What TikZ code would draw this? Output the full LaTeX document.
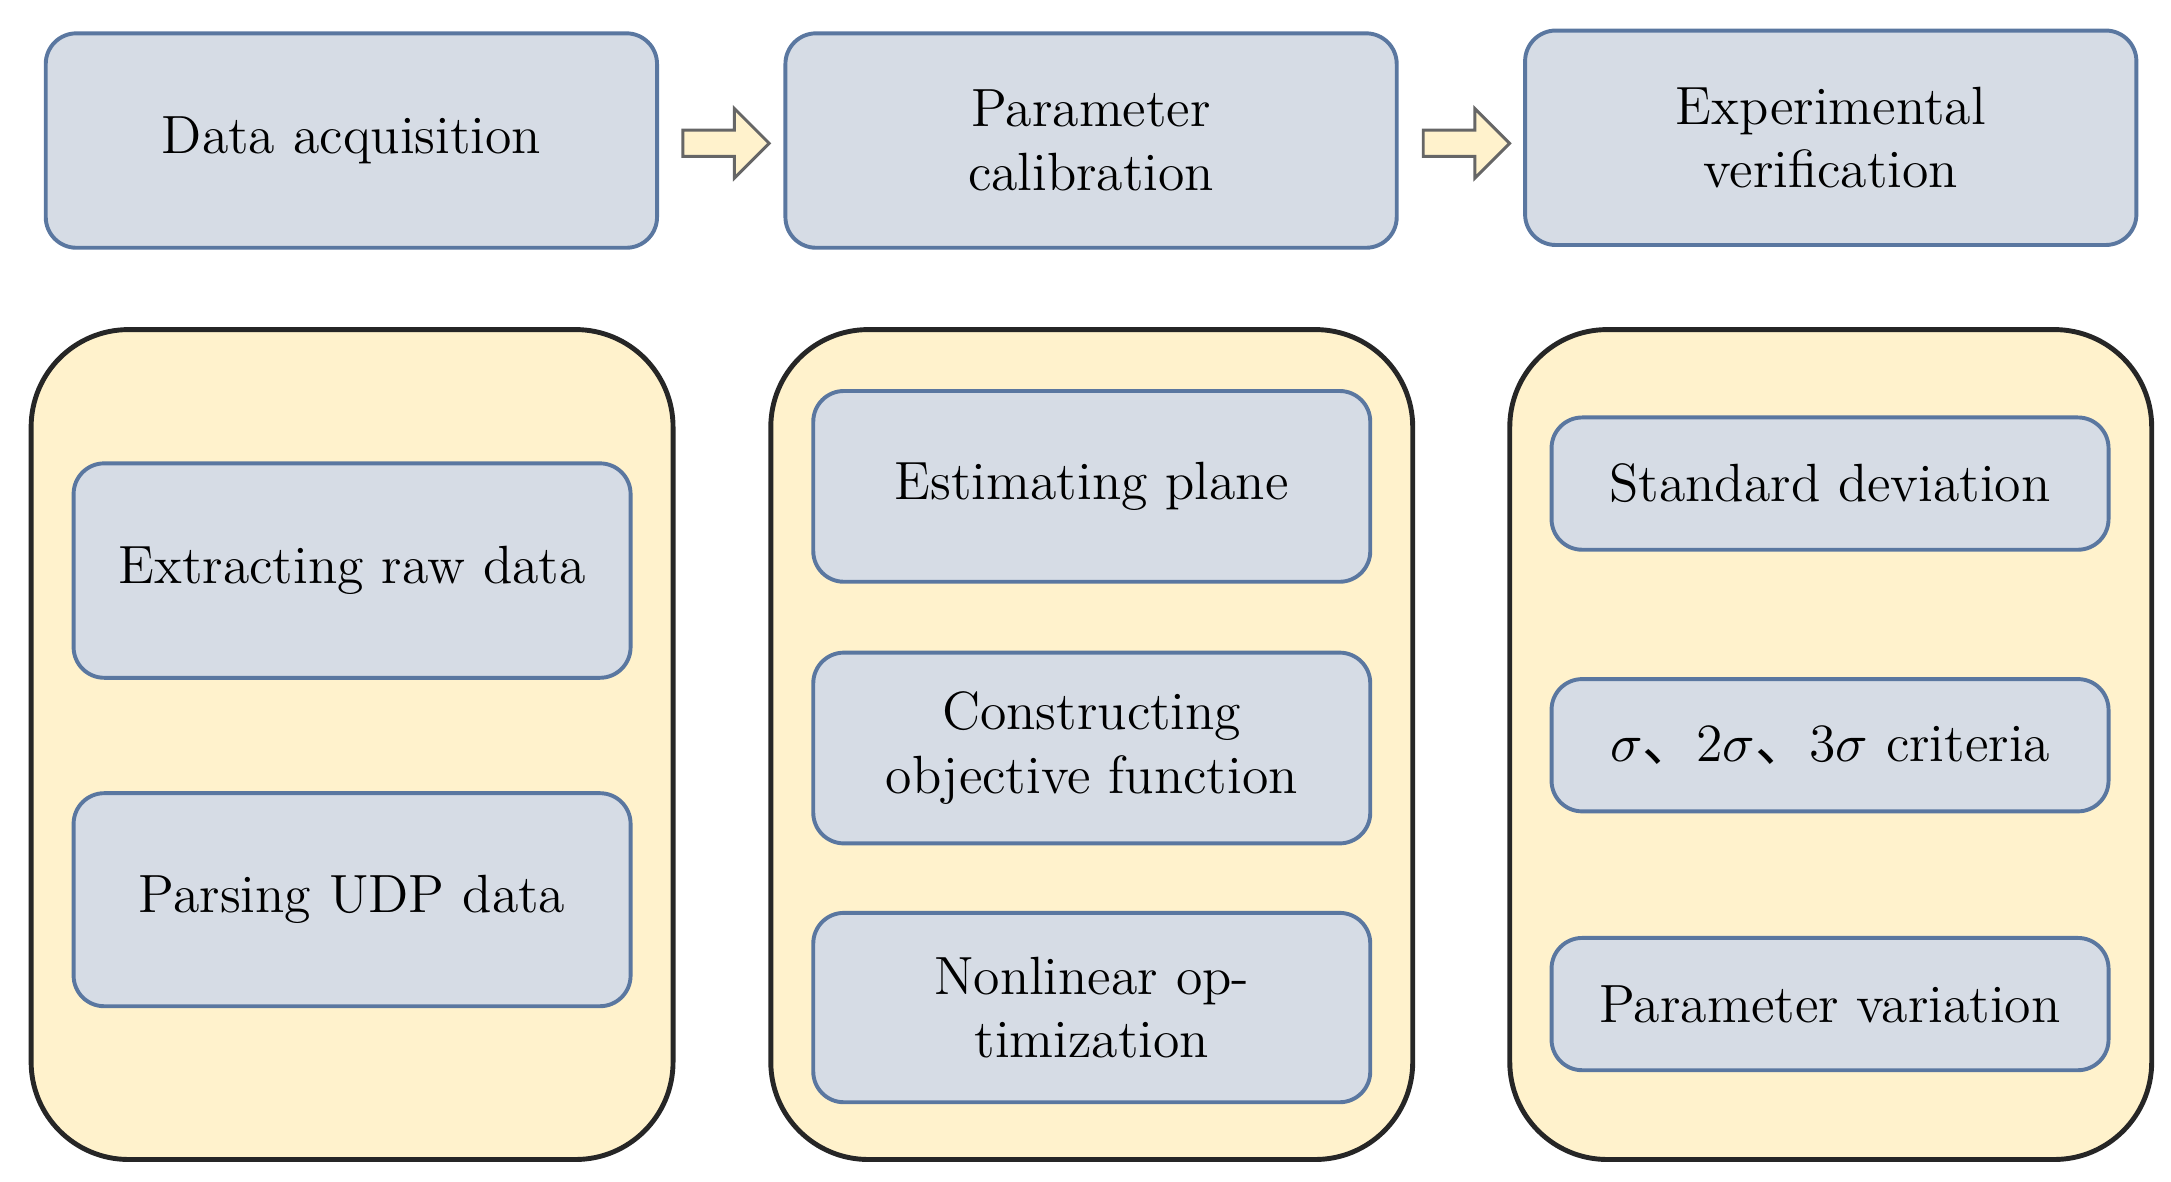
\documentclass[tikz,border=0pt]{standalone}
\usepackage{fontspec}
\newfontfamily\cjk{Noto Sans CJK SC}
\usetikzlibrary{shapes.arrows}
\definecolor{boxfill}{HTML}{D6DCE5}
\definecolor{boxline}{HTML}{5A77A0}
\definecolor{panelfill}{HTML}{FFF2CC}
\definecolor{arrowfill}{HTML}{FFF2CC}
\tikzset{
    every node/.style={
        font=\fontsize{11}{13}\selectfont
    },
    stage/.style={
        shape=rectangle,
        draw=boxline,
        fill=boxfill,
        line width=0.8pt,
        rounded corners=2.2mm,
        text width=3.6cm,
        align=center,
        minimum width=4.39cm,
        minimum height=1.54cm
    },
    panel/.style={
        shape=rectangle,
        draw=black!85,
        fill=panelfill,
        line width=1pt,
        rounded corners=7mm,
        minimum width=4.61cm,
        minimum height=5.96cm
    },
    task/.style={
        stage,
        minimum width=4cm
    },
    flow/.style={
        single arrow,
        draw=black!60,
        fill=arrowfill,
        line width=0.6pt,
        minimum height=0.62cm,
        minimum width=0.5cm,
        single arrow head extend=0.1cm,
        inner sep=0.5mm
    }
}
\begin{document}
\begin{tikzpicture}[x=0.01cm, y=-0.01cm]
    \useasboundingbox (0,0) rectangle (1560,849);
    % top row
    \node (acq) at (252.5,101) [stage] {Data acquisition};
    \node (cal) at (784,101) [stage] {Parameter calibration};
    \node (ver) at (1315.5,99) [stage] {Experimental verification};
    \node (a1) at (517,103) [flow] {};
    \node (a2) at (1049,103) [flow] {};

    % panels
    \node (pacq) at (253,535) [panel] {};
    \node (pcal) at (784.5,535) [panel] {};
    \node (pver) at (1315.5,535) [panel] {};

    \node (raw) at (253,410) [task, minimum height=1.54cm] {Extracting raw data};
    \node (udp) at (253,646.5) [task, minimum height=1.53cm] {Parsing UDP data};

    \node (plane) at (784.5,349.5) [task, minimum height=1.37cm] {Estimating plane};
    \node (obj) at (784.5,537.5) [task, minimum height=1.37cm] {Constructing objective function};
    \node (opt) at (784.5,724) [task, minimum height=1.36cm] {Nonlinear optimization};

    \node (std) at (1315,347.5) [task, minimum height=0.95cm] {Standard deviation};
    \node (crit) at (1315,535.5) [task, minimum height=0.95cm] {$\sigma${\cjk 、}2$\sigma${\cjk 、}3$\sigma$ criteria};
    \node (var) at (1315,721.5) [task, minimum height=0.95cm] {Parameter variation};
\end{tikzpicture}
\end{document}
